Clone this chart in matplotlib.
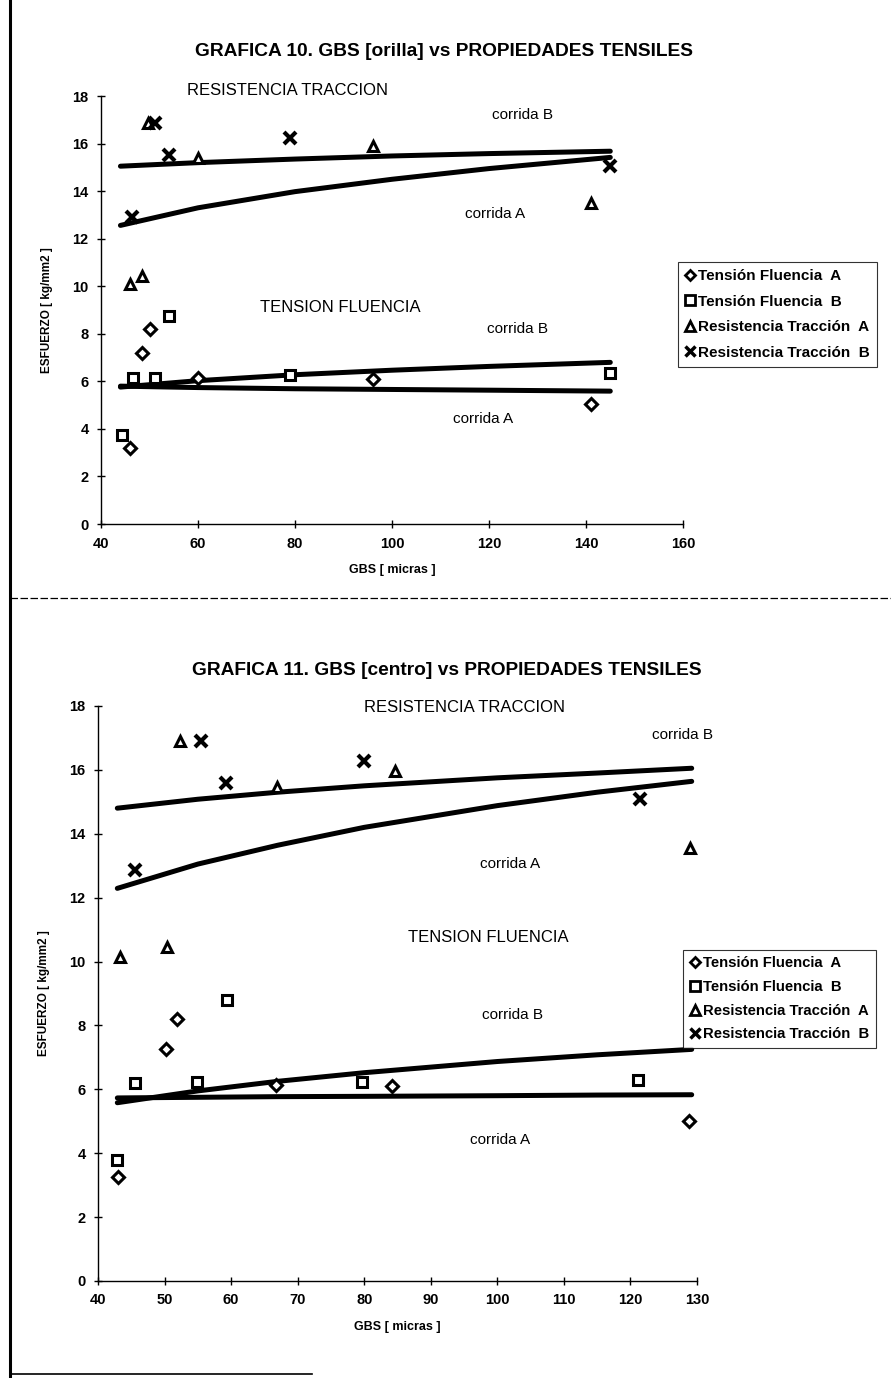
import matplotlib.pyplot as plt
from matplotlib.lines import Line2D

plt.rcParams['font.family'] = ['Liberation Sans', 'DejaVu Sans']

# ---- GRAFICA 10 (orilla) ----
g10_tfa_x = [46, 48.4, 50, 60, 96, 141]
g10_tfa_y = [3.2, 7.2, 8.2, 6.15, 6.1, 5.05]
g10_tfb_x = [44.3, 46.5, 51.2, 54, 79, 145]
g10_tfb_y = [3.75, 6.15, 6.15, 8.75, 6.25, 6.35]
g10_rta_x = [46, 48.5, 49.7, 60, 96, 141]
g10_rta_y = [10.1, 10.45, 16.85, 15.4, 15.9, 13.5]
g10_rtb_x = [51.1, 46.4, 54, 79, 145]
g10_rtb_y = [16.85, 12.9, 15.5, 16.25, 15.05]

# trend lines
g10_trend_x = [44, 60, 80, 100, 120, 145]
g10_rtb_trend = [15.05, 15.2, 15.35, 15.48, 15.58, 15.68]
g10_rta_trend = [12.56, 13.3, 13.98, 14.5, 14.95, 15.42]
g10_tfb_trend = [5.76, 6.03, 6.28, 6.47, 6.63, 6.8]
g10_tfa_trend = [5.8, 5.74, 5.69, 5.66, 5.63, 5.59]

# ---- GRAFICA 11 (centro) ----
g11_tfa_x = [43, 50.2, 51.9, 66.7, 84.1, 128.8]
g11_tfa_y = [3.25, 7.25, 8.2, 6.15, 6.1, 5.0]
g11_tfb_x = [42.8, 45.6, 54.8, 59.4, 79.7, 121.2]
g11_tfb_y = [3.8, 6.2, 6.22, 8.78, 6.22, 6.28]
g11_rta_x = [43.3, 50.4, 52.3, 66.9, 84.6, 128.9]
g11_rta_y = [10.15, 10.47, 16.9, 15.45, 15.95, 13.55]
g11_rtb_x = [55.5, 45.5, 59.3, 79.9, 121.4]
g11_rtb_y = [16.9, 12.88, 15.58, 16.27, 15.08]

g11_trend_x = [42.9, 55, 67, 80, 100, 115, 129.2]
g11_rtb_trend = [14.8, 15.08, 15.3, 15.5, 15.75, 15.9, 16.05]
g11_rta_trend = [12.29, 13.05, 13.64, 14.2, 14.88, 15.3, 15.64]
g11_tfb_trend = [5.58, 5.95, 6.25, 6.52, 6.87, 7.08, 7.25]
g11_tfa_trend = [5.73, 5.75, 5.77, 5.78, 5.8, 5.82, 5.83]

labels = ['Tensión Fluencia  A', 'Tensión Fluencia  B',
          'Resistencia Tracción  A', 'Resistencia Tracción  B']
markers = ['D', 's', '^', 'x']


def draw(ax, pts, trend_x, trends, xlim, xticks, title, title_x, title_pad,
         texts, leg_anchor, leg_fs, leg_sp):
    for tx in trends:
        ax.plot(trend_x, tx, color='black', lw=3.6, solid_capstyle='round', zorder=2)
    for (x, y), m in zip(pts, markers):
        if m == 'x':
            ax.plot(x, y, ls='none', marker='x', ms=8, mew=3, color='black', zorder=3)
        else:
            ax.plot(x, y, ls='none', marker=m, ms=7 if m != 'D' else 6,
                    mfc='white', mec='black', mew=2.2, zorder=3)
    ax.set_xlim(*xlim)
    ax.set_ylim(0, 18)
    ax.set_xticks(xticks)
    ax.set_yticks(range(0, 19, 2))
    for s in ['top', 'right']:
        ax.spines[s].set_visible(False)
    for s in ['left', 'bottom']:
        ax.spines[s].set_linewidth(1.0)
    ax.tick_params(direction='inout', length=6, width=1, labelsize=10.5, pad=6)
    for lab in ax.get_xticklabels() + ax.get_yticklabels():
        lab.set_fontweight('bold')
    ax.set_xlabel('GBS [ micras ]', fontsize=9, fontweight='bold', labelpad=10)
    ax.set_ylabel('ESFUERZO [ kg/mm2 ]', fontsize=8.5, fontweight='bold', labelpad=14)
    ax.set_title(title, fontsize=13.8, fontweight='bold', pad=title_pad, x=title_x)
    for tx, x, y, fs in texts:
        ax.text(x, y, tx, fontsize=fs, ha='center', va='center', clip_on=False)
    handles = []
    for m in markers:
        if m == 'x':
            handles.append(Line2D([], [], ls='none', marker='x', ms=7, mew=2.5, color='black'))
        else:
            handles.append(Line2D([], [], ls='none', marker=m, ms=6.5 if m != 'D' else 5.5,
                                  mfc='white', mec='black', mew=2))
    leg = ax.legend(handles, labels, loc='upper left', bbox_to_anchor=leg_anchor,
                    frameon=True, fancybox=False, edgecolor='black', handlelength=0.7,
                    handletextpad=0.2, borderpad=0.45, labelspacing=leg_sp,
                    prop={'size': leg_fs, 'weight': 'bold'}, borderaxespad=0)
    leg.get_frame().set_linewidth(0.8)
    leg.set_zorder(5)


fig = plt.figure(figsize=(8.91, 13.78), dpi=100)

ax1 = fig.add_axes([0.1134, 0.6197, 0.6532, 0.3106])
draw(ax1,
     [(g10_tfa_x, g10_tfa_y), (g10_tfb_x, g10_tfb_y),
      (g10_rta_x, g10_rta_y), (g10_rtb_x, g10_rtb_y)],
     g10_trend_x, [g10_rtb_trend, g10_rta_trend, g10_tfb_trend, g10_tfa_trend],
     (40, 160), range(40, 161, 20),
     'GRAFICA 10. GBS [orilla] vs PROPIEDADES TENSILES', 0.59, 29,
     [('RESISTENCIA TRACCION', 78.5, 18.25, 12),
      ('corrida B', 127, 17.2, 11),
      ('corrida A', 121.2, 13.05, 11),
      ('TENSION FLUENCIA', 89.3, 9.1, 12),
      ('corrida B', 125.8, 8.22, 11),
      ('corrida A', 118.8, 4.4, 11)],
     (0.991, 0.612), 11, 0.76)

ax2 = fig.add_axes([0.110, 0.0704, 0.6723, 0.4173])
draw(ax2,
     [(g11_tfa_x, g11_tfa_y), (g11_tfb_x, g11_tfb_y),
      (g11_rta_x, g11_rta_y), (g11_rtb_x, g11_rtb_y)],
     g11_trend_x, [g11_rtb_trend, g11_rta_trend, g11_tfb_trend, g11_tfa_trend],
     (40, 130), range(40, 131, 10),
     'GRAFICA 11. GBS [centro] vs PROPIEDADES TENSILES', 0.583, 22,
     [('RESISTENCIA TRACCION', 95.1, 17.95, 12),
      ('corrida B', 127.8, 17.1, 11),
      ('corrida A', 101.9, 13.05, 11),
      ('TENSION FLUENCIA', 98.6, 10.75, 12),
      ('corrida B', 102.3, 8.33, 11),
      ('corrida A', 100.4, 4.4, 11)],
     (0.977, 0.576), 10.7, 0.65)

# page frame: left border and separator
fig.add_artist(Line2D([0.011, 0.011], [0.0, 1.0], color='black', lw=2.2))
fig.add_artist(Line2D([0.011, 1.0], [1 - 598 / 1378, 1 - 598 / 1378], color='black',
                      lw=0.9, ls=(0, (6, 2))))
fig.add_artist(Line2D([0.011, 0.35], [0.003, 0.003], color='black', lw=1.2))

fig.savefig('out.png', dpi=100)
